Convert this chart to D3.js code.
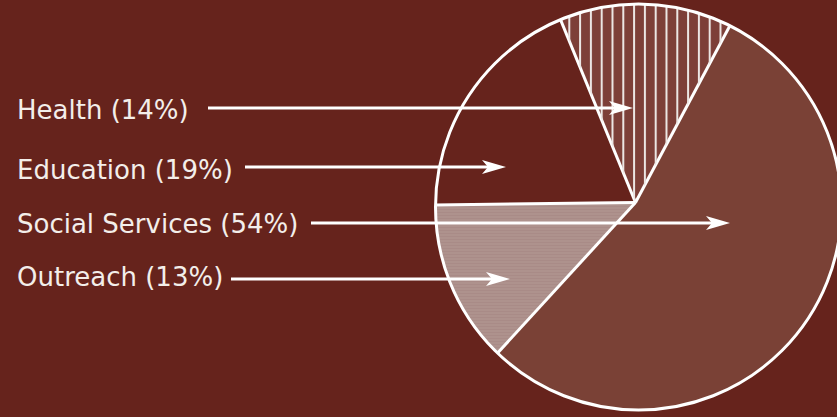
<!DOCTYPE html>
<html>
<head>
<meta charset="utf-8">
<script src="https://cdn.jsdelivr.net/npm/d3@7"></script>
<style>
  html, body { margin: 0; padding: 0; background: #66231c; overflow: hidden; }
  svg { display: block; }
</style>
</head>
<body>
<script>
// chart data
var categories = ["Health", "Social Services", "Outreach", "Education"];
var shares = [14, 54, 13, 19];
// legend order, top to bottom
var legendOrder = ["Health", "Education", "Social Services", "Outreach"];

var svgWidth = 837;
var svgHeight = 417;
var bg = "#66231c";

var svg = d3.select("body")
  .append("svg")
  .attr("width", svgWidth)
  .attr("height", svgHeight);

svg.append("rect")
  .attr("width", svgWidth)
  .attr("height", svgHeight)
  .attr("fill", bg);

var defs = svg.append("defs");

// checker texture for the Health slice
var checker = defs.append("pattern")
  .attr("id", "checker")
  .attr("patternUnits", "userSpaceOnUse")
  .attr("width", 2)
  .attr("height", 2);
checker.append("rect").attr("width", 2).attr("height", 2).attr("fill", "#6e2e27");
checker.append("rect").attr("width", 1).attr("height", 1).attr("fill", "#8c5048");
checker.append("rect").attr("x", 1).attr("y", 1).attr("width", 1).attr("height", 1).attr("fill", "#8c5048");

// vertical stripes for the Health slice
var stripes = defs.append("pattern")
  .attr("id", "stripes")
  .attr("patternUnits", "userSpaceOnUse")
  .attr("x", 569.3 - 1)
  .attr("width", 10.8)
  .attr("height", 10);
stripes.append("rect").attr("x", 0).attr("width", 2).attr("height", 10).attr("fill", "#ece6e4");

// faint horizontal lines for Outreach
var hlines = defs.append("pattern")
  .attr("id", "hlines")
  .attr("patternUnits", "userSpaceOnUse")
  .attr("width", 10)
  .attr("height", 3);
hlines.append("rect").attr("width", 10).attr("height", 3).attr("fill", "#a98b87");
hlines.append("rect").attr("y", 2).attr("width", 10).attr("height", 1).attr("fill", "#b39893");

// circle outline and slice apex are a few pixels apart in the original
var circ = { x: 638.5, y: 207, r: 203 };
var apex = { x: 635.5, y: 202.5 };

defs.append("clipPath")
  .attr("id", "pieClip")
  .append("circle")
  .attr("cx", circ.x)
  .attr("cy", circ.y)
  .attr("r", circ.r);

var fills = {
  "Health": "url(#checker)",
  "Social Services": "#7a4136",
  "Outreach": "url(#hlines)",
  "Education": bg
};

var start = -22.3 * Math.PI / 180;
var pie = d3.pie()
  .sort(null)
  .value(d => d.value)
  .startAngle(start)
  .endAngle(start + 2 * Math.PI);

var data = categories.map((c, i) => ({ name: c, value: shares[i] }));
var arcs = pie(data);

var arc = d3.arc().innerRadius(0).outerRadius(230);

var pieGroup = svg.append("g")
  .attr("clip-path", "url(#pieClip)")
  .append("g")
  .attr("transform", `translate(${apex.x}, ${apex.y})`);

pieGroup.selectAll("path.slice")
  .data(arcs)
  .enter()
  .append("path")
  .attr("class", "slice")
  .attr("d", arc)
  .attr("fill", d => fills[d.data.name]);

// stripes on top of Health (same arc, pattern in page coordinates)
svg.append("g")
  .attr("clip-path", "url(#pieClip)")
  .selectAll("path.stripe")
  .data(arcs.filter(d => d.data.name === "Health"))
  .enter()
  .append("path")
  .attr("class", "stripe")
  .attr("d", d => {
    var p = d3.path();
    var a0 = d.startAngle - Math.PI / 2, a1 = d.endAngle - Math.PI / 2;
    p.moveTo(apex.x, apex.y);
    p.lineTo(apex.x + 230 * Math.cos(a0), apex.y + 230 * Math.sin(a0));
    p.arc(apex.x, apex.y, 230, a0, a1);
    p.closePath();
    return p.toString();
  })
  .attr("fill", "url(#stripes)");

// white radial borders
pieGroup.selectAll("line.edge")
  .data(arcs)
  .enter()
  .append("line")
  .attr("class", "edge")
  .attr("x1", 0)
  .attr("y1", 0)
  .attr("x2", d => 230 * Math.sin(d.startAngle))
  .attr("y2", d => -230 * Math.cos(d.startAngle))
  .attr("stroke", "#ffffff")
  .attr("stroke-width", 3);

svg.append("circle")
  .attr("cx", circ.x)
  .attr("cy", circ.y)
  .attr("r", circ.r)
  .attr("fill", "none")
  .attr("stroke", "#ffffff")
  .attr("stroke-width", 3);

// legend text and arrows
var baselines = { "Health": 119, "Education": 179, "Social Services": 233, "Outreach": 286 };
var lineStart = { "Health": 208, "Education": 245, "Social Services": 311, "Outreach": 231 };
var arrowTip = {
  "Health": [633, 108],
  "Education": [506, 167],
  "Social Services": [730, 223],
  "Outreach": [510, 279]
};

var legend = svg.append("g");

legendOrder.forEach(function(name) {
  var i = categories.indexOf(name);
  legend.append("text")
    .attr("x", 17)
    .attr("y", baselines[name])
    .attr("font-family", "'DejaVu Sans', Verdana, sans-serif")
    .attr("font-size", 26)
    .attr("fill", "#f3eeea")
    .text(`${name} (${shares[i]}%)`);

  var tip = arrowTip[name];
  legend.append("line")
    .attr("x1", lineStart[name])
    .attr("y1", tip[1])
    .attr("x2", tip[0] - 12)
    .attr("y2", tip[1])
    .attr("stroke", "#ffffff")
    .attr("stroke-width", 3);

  legend.append("path")
    .attr("d", `M${tip[0]},${tip[1]} L${tip[0] - 24},${tip[1] - 7} L${tip[0] - 18},${tip[1]} L${tip[0] - 24},${tip[1] + 7} Z`)
    .attr("fill", "#ffffff");
});
</script>
</body>
</html>
